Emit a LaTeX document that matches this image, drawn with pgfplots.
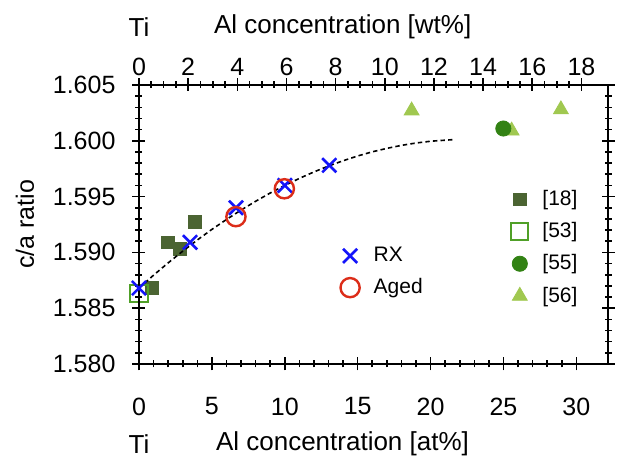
\documentclass[border=0pt]{standalone}
\usepackage{fontspec}
\setmainfont{Liberation Sans}
\usepackage{pgfplots}
\pgfplotsset{compat=1.18}
\definecolor{rxblue}{RGB}{20,20,250}
\definecolor{agedred}{RGB}{220,45,25}
\definecolor{c18}{RGB}{75,100,50}
\definecolor{c53}{RGB}{80,160,40}
\definecolor{c55}{RGB}{50,130,20}
\definecolor{c56}{RGB}{160,200,80}

\pgfplotsset{
  base/.style={
    scale only axis, width=234.5pt, height=139.5pt,
    at={(0,0)}, anchor=south west,
    ymin=1.580, ymax=1.605,
    /pgf/number format/assume math mode=true,
    tick align=center,
    major tick length=6.5pt, minor tick length=3.5pt,
    every tick/.style={black, line width=0.8pt},
    axis line style={line width=0.8pt},
    tick label style={font=\fontsize{12.5}{14}\selectfont},
  },
}

\begin{document}
\begin{tikzpicture}[font=\fontsize{13}{15}\selectfont]
\useasboundingbox (-69.5pt,-47pt) rectangle (239pt,182pt);

% reference data
\begin{axis}[base, xmin=0, xmax=32.17, hide axis, clip=false,
  legend style={draw=none, fill=none, at={(rel axis cs:0.78,0.417)}, anchor=west,
    font=\fontsize{10.5}{12}\selectfont, row sep=3pt, column sep=5pt},
  legend cell align=left]
  \addplot[only marks, mark=triangle*, color=c56, mark size=4.3pt, forget plot]
    coordinates {(18.7,1.6027) (25.56,1.6009) (28.94,1.6028)};
  \addplot[only marks, mark=square*, color=c18, mark size=3.2pt]
    coordinates {(0.91,1.5868) (1.97,1.5909) (2.81,1.5903) (3.84,1.5927)};
  \addlegendentry{[18]}
  \addplot[only marks, mark=square, color=c53, mark size=4.3pt, line width=1pt]
    coordinates {(0,1.5863)};
  \addlegendentry{[53]}
  \addplot[only marks, mark=*, color=c55, mark size=3.8pt]
    coordinates {(24.99,1.6011)};
  \addlegendentry{[55]}
  \addlegendimage{only marks, mark=triangle*, color=c56, mark size=4.3pt}
  \addlegendentry{[56]}
\end{axis}

% main axis: this work
\begin{axis}[base, name=main, xmin=0, xmax=32.17,
  xtick={0,5,10,15,20,25,30}, minor x tick num=4, xtick pos=bottom,
  ytick={1.580,1.585,1.590,1.595,1.600,1.605}, minor y tick num=4, ytick pos=both,
  yticklabel style={xshift=-5pt, /pgf/number format/.cd, fixed, fixed zerofill, precision=3},
  xticklabel style={yshift=-10pt},
  legend style={draw=none, fill=none, at={(rel axis cs:0.416,0.33)}, anchor=west,
    font=\fontsize{10.5}{12}\selectfont, row sep=3pt, column sep=5pt},
  legend cell align=left]
  \addplot[black, line width=0.8pt, dash pattern=on 2.2pt off 1.6pt, forget plot] coordinates {
    (0,1.58680) (1,1.58796) (2,1.58906) (3,1.59011) (4,1.59111) (5,1.59206)
    (6,1.59295) (7,1.59379) (8,1.59458) (9,1.59532) (10,1.59600) (11,1.59663)
    (12,1.59721) (13,1.59774) (14,1.59821) (15,1.59864) (16,1.59901) (17,1.59932)
    (18,1.59959) (19,1.59980) (20,1.59996) (21.5,1.60010)};
  \addplot[only marks, mark=x, color=rxblue, mark size=5pt, line width=1.3pt]
    coordinates {(0,1.5868) (3.5,1.5909) (6.65,1.5940) (10.0,1.5960) (13.05,1.5978)};
  \addlegendentry{RX}
  \addplot[only marks, mark=o, color=agedred, mark size=4.8pt, line width=1.2pt]
    coordinates {(6.65,1.5932) (9.97,1.5957)};
  \addlegendentry{Aged}
\end{axis}

% top axis in wt%
\begin{axis}[base, xmin=0, xmax=19.08, axis x line*=top, hide y axis,
  xtick={0,2,4,6,8,10,12,14,16,18}, minor x tick num=3,
  xticklabel style={yshift=-2pt}]
\end{axis}

\node[rotate=90, font=\fontsize{12.5}{14}\selectfont] at ([xshift=-57pt]main.west) {c/a ratio};
\node at ([yshift=-40pt]main.south west) {Ti};
\node[anchor=west] at ([yshift=-40pt, xshift=35pt]main.south west) {Al concentration [at\%]};
\node at ([yshift=29pt]main.north west) {Ti};
\node[anchor=west] at ([yshift=29pt, xshift=34pt]main.north west) {Al concentration [wt\%]};

\end{tikzpicture}
\end{document}
